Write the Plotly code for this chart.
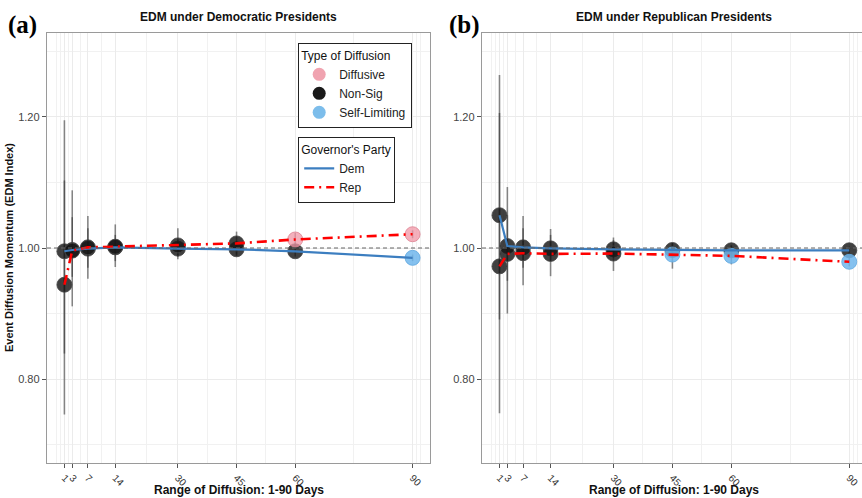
import plotly.graph_objects as go

# ---------------- data ----------------
days = [1, 3, 7, 14, 30, 45, 60, 90]
tick_labels = ["1", "3", "7", "14", "30", "45", "60", "90"]

# Panel (a): EDM under Democratic Presidents
a_dem_edm = [0.995, 0.997, 0.999, 1.001, 0.999, 0.998, 0.995, 0.985]
a_dem_lo = [0.839, 0.956, 0.970, 0.980, 0.987, 0.987, 0.987, 0.980]
a_dem_hi = [1.103, 1.047, 1.030, 1.020, 1.012, 1.010, 1.004, 0.990]
a_dem_type = ["Non-Sig"] * 7 + ["Self-Limiting"]

a_rep_edm = [0.944, 0.996, 1.001, 1.002, 1.004, 1.007, 1.013, 1.021]
a_rep_lo = [0.746, 0.911, 0.953, 0.971, 0.983, 0.990, 1.003, 1.015]
a_rep_hi = [1.195, 1.088, 1.049, 1.036, 1.030, 1.025, 1.023, 1.027]
a_rep_type = ["Non-Sig"] * 6 + ["Diffusive", "Diffusive"]

# Panel (b): EDM under Republican Presidents
b_dem_edm = [1.050, 1.003, 1.001, 0.9995, 0.998, 0.997, 0.9965, 0.9965]
b_dem_lo = [0.891, 0.950, 0.970, 0.980, 0.985, 0.987, 0.990, 0.991]
b_dem_hi = [1.206, 1.050, 1.030, 1.020, 1.012, 1.008, 1.004, 1.002]
b_dem_type = ["Non-Sig"] * 8

b_rep_edm = [0.972, 0.991, 0.992, 0.991, 0.9915, 0.990, 0.988, 0.979]
b_rep_lo = [0.748, 0.900, 0.943, 0.957, 0.965, 0.9685, 0.975, 0.972]
b_rep_hi = [1.264, 1.093, 1.049, 1.029, 1.016, 1.0076, 1.004, 0.986]
b_rep_type = ["Non-Sig"] * 5 + ["Self-Limiting"] * 3

types = ["Diffusive", "Non-Sig", "Self-Limiting"]
type_fill = {"Diffusive": "rgba(240,150,166,0.75)",
             "Non-Sig": "rgba(22,22,22,0.82)",
             "Self-Limiting": "rgba(112,182,236,0.85)"}
type_legend = {"Diffusive": "#F0A3B0", "Non-Sig": "#1A1A1A", "Self-Limiting": "#7CBDEB"}
type_edge = {"Diffusive": "rgba(220,130,145,0.8)",
             "Non-Sig": "rgba(70,70,70,0.85)",
             "Self-Limiting": "rgba(100,170,225,0.85)"}

DEM_COL = "#3C7EC0"
REP_COL = "#FF0000"
FONT = "Liberation Sans, Arial, sans-serif"

fig = go.Figure()

panels = [
    ("x", "y", [(a_dem_edm, a_dem_lo, a_dem_hi, a_dem_type), (a_rep_edm, a_rep_lo, a_rep_hi, a_rep_type)]),
    ("x2", "y2", [(b_dem_edm, b_dem_lo, b_dem_hi, b_dem_type), (b_rep_edm, b_rep_lo, b_rep_hi, b_rep_type)]),
]

for xa, ya, series in panels:
    # error bars
    for edm, lo, hi, _ in series:
        fig.add_trace(go.Scatter(
            x=days, y=edm, xaxis=xa, yaxis=ya, mode="markers",
            marker=dict(size=1, color="rgba(0,0,0,0)"),
            error_y=dict(type="data", symmetric=False,
                         array=[h - e for h, e in zip(hi, edm)],
                         arrayminus=[e - l for e, l in zip(edm, lo)],
                         color="rgba(45,45,45,0.55)", thickness=1.6, width=0),
            showlegend=False, hoverinfo="skip"))
    # points by type
    for edm, lo, hi, typ in series:
        for t in types:
            xs = [d for d, tt in zip(days, typ) if tt == t]
            ys = [e for e, tt in zip(edm, typ) if tt == t]
            if not xs:
                continue
            fig.add_trace(go.Scatter(
                x=xs, y=ys, xaxis=xa, yaxis=ya, mode="markers",
                marker=dict(size=15, color=type_fill[t],
                            line=dict(width=1, color=type_edge[t])),
                showlegend=False))

# lines on top
for xa, ya, series, show in [("x", "y", panels[0][2], True), ("x2", "y2", panels[1][2], False)]:
    (dem_edm, _, _, _), (rep_edm, _, _, _) = series
    fig.add_trace(go.Scatter(
        x=days, y=dem_edm, xaxis=xa, yaxis=ya, mode="lines",
        line=dict(color=DEM_COL, width=2.2), name="Dem",
        legend="legend2", showlegend=show))
    fig.add_trace(go.Scatter(
        x=days, y=rep_edm, xaxis=xa, yaxis=ya, mode="lines",
        line=dict(color=REP_COL, width=2.6, dash="10px,5px,2px,5px"), name="Rep",
        legend="legend2", showlegend=show))

# legend entries for type of diffusion
for t in types:
    fig.add_trace(go.Scatter(
        x=[None], y=[None], mode="markers", name=t,
        marker=dict(size=13, color=type_legend[t]), legend="legend"))

W, H = 862, 498
top_px, bot_px = 33, 463
ydom = [1 - bot_px / H, 1 - top_px / H]
left_dom = [47 / W, 430 / W]
right_dom = [482 / W, 1.0]
yrange = [0.672, 1.328]

axis_line = dict(showline=True, linecolor="#9A9A9A", linewidth=1.4)
grid = dict(showgrid=True, gridcolor="#EBEBEB", gridwidth=1, zeroline=False)
xminor = dict(tickvals=[-1, 0, 2, 5, 10.5, 22, 37.5, 52.5, 75, 91, 92],
              showgrid=True, gridcolor="#F1F1F1", gridwidth=1, ticks="")
yminor = dict(tickvals=[0.7, 0.9, 1.1, 1.3], showgrid=True, gridcolor="#F1F1F1",
              gridwidth=1, ticks="")

xcommon = dict(tickmode="array", tickvals=days, ticktext=tick_labels, tickangle=45,
               ticks="outside", ticklen=4, tickcolor="#555", tickwidth=1,
               tickfont=dict(family=FONT, size=10, color="#333"),
               minor=xminor, **grid, **axis_line)
ycommon = dict(tickmode="array", tickvals=[0.8, 1.0, 1.2],
               ticktext=["0.80", "1.00", "1.20"], range=yrange,
               ticks="outside", ticklen=4, tickcolor="#555", tickwidth=1,
               tickfont=dict(family=FONT, size=11, color="#444"),
               minor=yminor, domain=ydom, **grid, **axis_line)

fig.update_layout(
    width=W, height=H, margin=dict(l=0, r=0, t=0, b=0),
    paper_bgcolor="white", plot_bgcolor="white",
    xaxis=dict(domain=left_dom, range=[-3.45, 94.45], anchor="y", mirror=True, **xcommon),
    yaxis=dict(anchor="x", mirror=True, **ycommon),
    xaxis2=dict(domain=right_dom, range=[-3.45, -3.45 + (862 - 482) / 3.93], anchor="y2",
                mirror=True, **xcommon),
    yaxis2=dict(anchor="x2", mirror=False, **ycommon),
    legend=dict(x=298 / W, y=1 - 43 / H, xanchor="left", yanchor="top",
                bordercolor="#222", borderwidth=1.2, bgcolor="white",
                title=dict(text="Type of Diffusion", font=dict(family=FONT, size=12, color="#111")),
                font=dict(family=FONT, size=12, color="#222"), tracegroupgap=0,
                itemsizing="trace"),
    legend2=dict(x=298 / W, y=1 - 137 / H, xanchor="left", yanchor="top",
                 bordercolor="#222", borderwidth=1.2, bgcolor="white",
                 title=dict(text="Governor's Party", font=dict(family=FONT, size=12, color="#111")),
                 font=dict(family=FONT, size=12, color="#222"), itemwidth=30),
    showlegend=True,
)

# dashed reference line at EDM = 1
for xr, yr in [("x domain", "y"), ("x2 domain", "y2")]:
    fig.add_shape(type="line", xref=xr, yref=yr, x0=0, x1=1, y0=1.0, y1=1.0,
                  line=dict(color="#666", width=1.1, dash="4px,3px"), layer="above")

ann_font = dict(family=FONT, size=12, color="#111")
def ann(text, xpx, ypx, font, angle=0):
    return dict(text=text, x=xpx / W, y=1 - ypx / H, xref="paper", yref="paper",
                xanchor="center", yanchor="middle", showarrow=False, font=font,
                textangle=angle)

serif = dict(family="Liberation Serif, Times New Roman, serif", size=25, color="#000")
annotations = [
    ann("<b>EDM under Democratic Presidents</b>", 238.5, 17, ann_font),
    ann("<b>EDM under Republican Presidents</b>", 674, 17, ann_font),
    ann("<b>(a)</b>", 22, 25, serif),
    ann("<b>(b)</b>", 465, 25, serif),
    ann("<b>Range of Diffusion: 1-90 Days</b>", 238.5, 490, ann_font),
    ann("<b>Range of Diffusion: 1-90 Days</b>", 674, 490, ann_font),
    ann("<b>Event Diffusion Momentum (EDM Index)</b>", 9, 248,
        dict(family=FONT, size=11, color="#111"), angle=-90),
]
fig.update_layout(annotations=annotations)

fig.write_html("out.html")
